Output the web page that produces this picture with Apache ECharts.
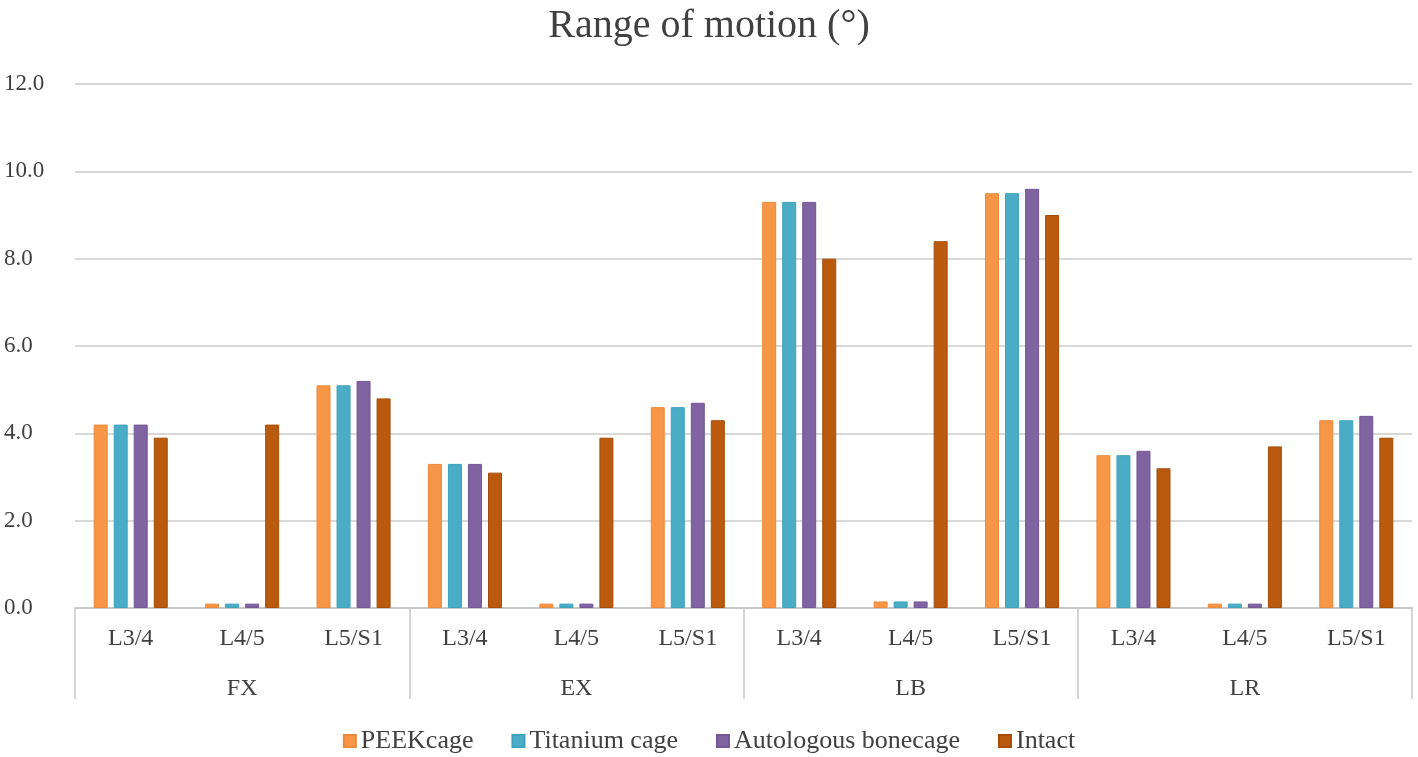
<!DOCTYPE html>
<html>
<head>
<meta charset="utf-8">
<script src="https://cdn.jsdelivr.net/npm/echarts@6/dist/echarts.min.js"></script>
<style>html,body{margin:0;padding:0;background:#fff}#c{width:1418px;height:757px}</style>
</head>
<body>
<div id="c"></div>
<script>
const levels = ['L3/4','L4/5','L5/S1','L3/4','L4/5','L5/S1','L3/4','L4/5','L5/S1','L3/4','L4/5','L5/S1'];
const groups = ['FX','EX','LB','LR'];
const seriesNames = ['PEEKcage','Titanium cage','Autologous bonecage','Intact'];
const peek     = [4.2,0.1,5.1, 3.3,0.1,4.6, 9.3,0.15,9.5, 3.5,0.1,4.3];
const titanium = [4.2,0.1,5.1, 3.3,0.1,4.6, 9.3,0.15,9.5, 3.5,0.1,4.3];
const bone     = [4.2,0.1,5.2, 3.3,0.1,4.7, 9.3,0.15,9.6, 3.6,0.1,4.4];
const intact   = [3.9,4.2,4.8, 3.1,3.9,4.3, 8.0,8.4,9.0, 3.2,3.7,3.9];
const yTicks = [0,2,4,6,8,10,12];

const colors = ['#F79646','#4BACC6','#8064A2','#BA5A0F'];
const borders = ['#EC8A3C','#3FA2BC','#735796','#A64E08'];
const values = [peek, titanium, bone, intact];
const font = 'Liberation Serif, Times New Roman, serif';

const chart = echarts.init(document.getElementById('c'));
chart.setOption({
  animation: false,
  title: {text: 'Range of motion (°)', left: 'center', top: 1,
    textStyle: {fontFamily: font, fontSize: 40, fontWeight: 'normal', color: '#404040'}},
  grid: {left: 75, right: 6, top: 84, bottom: 149},
  legend: {
    data: seriesNames, top: 723, left: 'center', itemWidth: 12, itemHeight: 12, itemGap: 38,
    icon: 'rect',
    textStyle: {fontFamily: font, fontSize: 26, color: '#404040'}
  },
  xAxis: [
    {type: 'category', data: levels, position: 'bottom',
      axisLine: {lineStyle: {color: '#c8c8c8', width: 2}},
      axisTick: {show: false},
      axisLabel: {fontFamily: font, fontSize: 24, color: '#404040', margin: 19, interval: 0}},
    {type: 'category', data: groups, position: 'bottom',
      axisLine: {show: false},
      axisTick: {show: true, length: 91, interval: 0, lineStyle: {color: '#c8c8c8', width: 1.5}},
      axisLabel: {fontFamily: font, fontSize: 24, color: '#404040', margin: 69, interval: 0}}
  ],
  yAxis: {type: 'value', min: yTicks[0], max: yTicks[yTicks.length-1], interval: 2,
    axisLine: {show: false}, axisTick: {show: false},
    splitLine: {lineStyle: {color: '#d9d9d9', width: 2}},
    axisLabel: {fontFamily: font, fontSize: 23, color: '#404040', margin: 71, align: 'left',
      formatter: v => v.toFixed(1)}},
  series: seriesNames.map((n, i) => ({
    name: n, type: 'bar', xAxisIndex: 0, data: values[i],
    barWidth: 14, barGap: '43%',
    itemStyle: {color: colors[i], borderColor: borders[i], borderWidth: 1}
  }))
});
</script>
</body>
</html>
